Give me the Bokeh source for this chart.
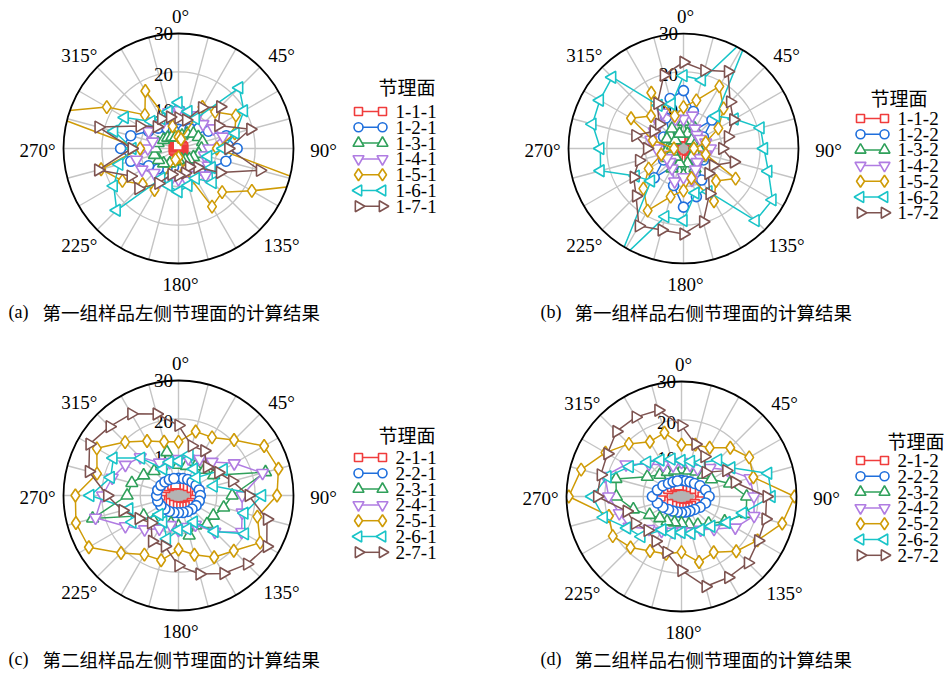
import math
from bokeh.plotting import figure
from bokeh.layouts import column, row
from bokeh.models import Range1d
from bokeh.core.properties import value
from bokeh.embed import file_html
from bokeh.resources import INLINE

# ---------------- data ----------------
angles_deg = [0, 15, 30, 45, 60, 75, 90, 105, 120, 135, 150, 165,
              180, 195, 210, 225, 240, 255, 270, 285, 300, 315, 330, 345]
ring_ticks = [10, 20, 30]
angle_ticks = [0, 45, 90, 135, 180, 225, 270, 315]

labels_a = ["1-1-1", "1-2-1", "1-3-1", "1-4-1", "1-5-1", "1-6-1", "1-7-1"]
labels_b = ["1-1-2", "1-2-2", "1-3-2", "1-4-2", "1-5-2", "1-6-2", "1-7-2"]
labels_c = ["2-1-1", "2-2-1", "2-3-1", "2-4-1", "2-5-1", "2-6-1", "2-7-1"]
labels_d = ["2-1-2", "2-2-2", "2-3-2", "2-4-2", "2-5-2", "2-6-2", "2-7-2"]

# panel (a)
a_111 = [0.8, 0.8, 0.9, 1, 1.1, 1.2, 1.2, 1.2, 1.1, 1, 0.9, 0.8, 0.8, 0.8, 0.9, 1, 1.1, 1.2, 1.2, 1.2, 1.1, 1, 0.9, 0.8]
a_121 = [5, 5, 6, 7.5, 9, 12.9, 15.3, 12.8, 10, 8, 6, 5, 5, 5, 6, 7.5, 9, 12.9, 15.1, 12.9, 9, 7.5, 6, 5]
a_131 = [3, 3.5, 4.5, 5.5, 6, 6.5, 6, 5.5, 4.5, 4, 3.5, 3, 3, 3.5, 4.5, 5.5, 6, 6.5, 6, 5.5, 4.5, 4, 3.5, 3]
a_141 = [10, 9, 10, 9, 10.5, 12, 8, 7, 9, 10, 8, 8.7, 8, 9, 10, 9, 11, 11.3, 8, 7, 9, 10, 8, 9.8]
a_151 = [3, 2.5, 12.5, 13.5, 17.3, 15.2, 10, 36, 22.1, 16.1, 17.5, 6, 2.3, 3, 12.5, 13.2, 16.9, 20.9, 10, 36, 21.6, 12.4, 17.3, 6]
a_161 = [12, 10, 9, 22.4, 19.7, 15.4, 11.7, 8, 10, 12.6, 9, 10, 11.3, 10, 9, 22.8, 19.5, 16, 12, 17.4, 16.2, 10, 9, 10]
a_171 = [8, 7.7, 12.3, 15.4, 12, 19.4, 13, 22, 12.5, 7, 5.5, 6.6, 7, 7, 10.5, 14.8, 14.4, 21.7, 12.2, 21.6, 11.7, 8, 9, 8.5]

# panel (b)
b_112 = [3, 3, 3, 3, 3, 4, 5, 4, 3, 3, 3, 3, 3, 3, 3, 3, 3, 4, 5, 4, 3, 3, 3, 3]
b_122 = [15.1, 10, 5.4, 10.5, 6, 4, 3, 4, 6, 5, 9.5, 13, 15.3, 10, 5.4, 10.8, 6, 4, 3, 4, 6, 5, 9.2, 13.5]
b_132 = [7, 4, 6, 3, 5, 3, 4, 3, 5, 3, 6, 4, 7, 4, 6, 3, 5, 3, 4, 3, 5, 3, 6, 4]
b_142 = [7.7, 8.9, 6, 5, 5, 6, 7, 6, 5, 5, 6.3, 8.5, 7.5, 8.9, 6, 5, 5, 6.2, 7, 8.8, 8.8, 9, 10.8, 8]
b_152 = [10.8, 13, 18.7, 14.8, 10.5, 6, 2.7, 6, 15.7, 12, 15.9, 8, 11, 13, 18.7, 14.8, 10.5, 6, 2.5, 8.3, 15.8, 12, 16.8, 8.8]
b_162 = [19, 18.5, 34, 12, 15.4, 20.8, 21, 22.9, 26.8, 26.6, 13, 12, 18.8, 18.4, 34, 12, 14.4, 22.4, 21.7, 24.6, 25.2, 26.3, 13, 12]
b_172 = [22.5, 21.1, 23.2, 17.2, 15, 12, 10.1, 13.6, 8.9, 9.2, 13.6, 19.8, 22.3, 22, 23.3, 17.5, 15, 12, 9.5, 13, 9, 9, 13.6, 19.8]

# panel (c)
c_211 = [3, 3, 3.2, 3.5, 4, 4.5, 4.8, 4.5, 4, 3.5, 3.2, 3, 3, 3, 3.2, 3.5, 4, 4.5, 4.8, 4.5, 4, 3.5, 3.2, 3]
c_221 = [4.5, 4.6, 4.8, 5, 5.3, 5.6, 5.7, 5.6, 5.3, 5, 4.8, 4.6, 4.5, 4.6, 4.8, 5, 5.3, 5.6, 5.7, 5.6, 5.3, 5, 4.8, 4.6]
c_231 = [8, 8, 8.8, 9.5, 10.6, 23.5, 14, 12.2, 10.5, 10.5, 9, 10.8, 8, 7.5, 8.5, 9.2, 10.5, 23.2, 13.4, 12.6, 10.5, 9, 8.8, 11.7]
c_241 = [9.5, 10, 11, 12.4, 16.8, 22.7, 16.6, 17.2, 19, 13.4, 8.8, 8.5, 9, 8, 10, 12.5, 16, 22.4, 19.8, 17.9, 16, 14.1, 9.9, 9]
c_251 = [14, 17.3, 17.5, 20.5, 25.8, 27, 25.7, 21.3, 24.6, 20.4, 18.6, 16, 14.1, 17.5, 17.8, 21.2, 27, 27.7, 26.9, 22, 24.6, 19.7, 16.4, 14.5]
c_261 = [9, 11.1, 8, 6.6, 13.6, 9.5, 21.8, 17.8, 20, 13.3, 8, 9, 9, 11.7, 8, 7, 13.9, 13.3, 23, 18.3, 19.6, 13.8, 8, 9]
c_271 = [18.3, 13.4, 13.5, 10.5, 12, 14.5, 18.3, 23.9, 26.6, 25.3, 23.5, 21.2, 18.3, 13.7, 13.8, 10.1, 12, 15.1, 18.6, 24.2, 26.8, 25.4, 24.6, 22]

# panel (d)
d_212 = [3, 3, 3.2, 3.5, 4, 5, 5.5, 5, 4, 3.5, 3.2, 3, 3, 3, 3.2, 3.5, 4, 5, 5.5, 5, 4, 3.5, 3.2, 3]
d_222 = [4.2, 4.2, 4.4, 4.8, 5.6, 6.5, 7.2, 6.5, 5.6, 4.8, 4.4, 4.2, 4.2, 4.2, 4.4, 4.8, 5.6, 6.5, 7.6, 6.5, 5.6, 4.8, 4.4, 4.2]
d_232 = [7, 7, 7.5, 8, 9, 13, 17, 17.5, 13, 10, 8.5, 7.5, 7, 7, 7.5, 8, 9.6, 13, 17, 17.7, 10.3, 8, 7.4, 7]
d_242 = [9, 8.5, 8.4, 10.5, 13.9, 18.5, 18.9, 19.6, 16.2, 12, 10, 9.5, 9, 9.5, 10.4, 12, 15.8, 16.8, 19, 20.7, 16.7, 12, 9.5, 8.4]
d_252 = [13.5, 14, 14.7, 18, 20.4, 19.4, 29.5, 27.2, 22.9, 20.2, 16.8, 17.7, 14.5, 15.5, 16.4, 18.8, 20.7, 19.6, 29.4, 27.1, 22.9, 19.4, 16.5, 17.2]
d_262 = [9.4, 9.5, 10.2, 13.5, 15, 23.4, 23.5, 16.6, 13.6, 11, 10, 10, 9.4, 9.9, 10, 14.8, 16.4, 21, 23.3, 20, 15.6, 12.7, 11, 10.1]
d_272 = [18.5, 14.1, 12, 8.9, 13.5, 14.4, 22.2, 22.7, 23.1, 24.5, 24.4, 24.3, 19.3, 15.1, 13.5, 12.5, 14, 14.8, 22, 21.8, 22.3, 24, 23.9, 23.3]

caption_a = "第一组样品左侧节理面的计算结果"
caption_b = "第一组样品右侧节理面的计算结果"
caption_c = "第二组样品左侧节理面的计算结果"
caption_d = "第二组样品右侧节理面的计算结果"
legend_title = "节理面"

# ---------------- style ----------------
COLORS = ["#f03c3c", "#1f6fdc", "#2fa05a", "#b07ce2", "#cf9b06", "#19c4c8", "#7e5350"]
MARKERS = [("square", 0.0, 9), ("circle", 0.0, 10), ("triangle", 0.0, 12),
           ("inverted_triangle", 0.0, 12), ("diamond", 0.0, 13),
           ("triangle", math.pi / 2, 12), ("triangle", -math.pi / 2, 12)]
GRID = "#c4c4c4"
SERIF = value("Liberation Serif")
CJK = value("Noto Sans CJK SC")
K = 115.0 / 30.0  # px per unit


def make_panel(W, H, series, labels, tag, caption, cx, cy, center_w, center_h,
               leg_tx, leg_y0, leg_dy, title_x, title_y, cap_x, cap_y):
    p = figure(width=W, height=H, x_range=Range1d(-cx / K, (W - cx) / K),
               y_range=Range1d(-(H - cy) / K, cy / K), output_backend="svg",
               toolbar_location=None, min_border=0, x_axis_type=None,
               y_axis_type=None, outline_line_color=None,
               background_fill_color="white", border_fill_color="white")

    def dx(px):
        return (px - cx) / K

    def dy(py):
        return (cy - py) / K

    rmax = ring_ticks[-1]
    sx = [rmax * math.sin(math.radians(a)) for a in angles_deg]
    sy = [rmax * math.cos(math.radians(a)) for a in angles_deg]
    p.segment(x0=[0] * len(sx), y0=[0] * len(sy), x1=sx, y1=sy,
              line_color=GRID, line_width=1.4)
    p.circle(x=[0] * 2, y=[0] * 2, radius=ring_ticks[:2], fill_color=None,
             line_color=GRID, line_width=1.4)
    p.ellipse(x=[0], y=[0], width=[center_w], height=[center_h],
              fill_color="#b4b4b4", line_color=None)
    p.text(x=[-15 / K] * 2, y=[ring_ticks[0], ring_ticks[1] - 0.7],
           text=[str(t) for t in ring_ticks[:2]],
           text_font=SERIF, text_font_size="19px", text_align="center",
           text_baseline="middle", text_color="black")

    for vals, col, (mk, ang, sz) in zip(series, COLORS, MARKERS):
        xs = [v * math.sin(math.radians(a)) for v, a in zip(vals, angles_deg)]
        ys = [v * math.cos(math.radians(a)) for v, a in zip(vals, angles_deg)]
        p.line(xs + xs[:1], ys + ys[:1], line_color=col, line_width=1.5)
        p.scatter(xs, ys, marker=mk, angle=ang, size=sz, fill_color="white",
                  line_color=col, line_width=1.6)

    # clip outside outer ring
    p.annulus(x=[0], y=[0], inner_radius=rmax, outer_radius=40,
              fill_color="white", line_color=None)
    p.circle(x=[0], y=[0], radius=[rmax], fill_color=None, line_color="black",
             line_width=1.8)
    p.text(x=[-15 / K], y=[rmax], text=[str(rmax)], text_font=SERIF,
           text_font_size="19px", text_align="center", text_baseline="middle")

    lx, ly, lt = [], [], []
    for a in angle_ticks:
        lx.append(143 / K * math.sin(math.radians(a)) + 2 / K)
        ly.append(134 / K * math.cos(math.radians(a)) - 2 / K)
        lt.append(f"{a}°")
    p.text(x=lx, y=ly, text=lt, text_font=SERIF, text_font_size="19px",
           text_align="center", text_baseline="middle")

    # legend
    p.text(x=[dx(title_x)], y=[dy(title_y)], text=[legend_title], text_font=CJK,
           text_font_size="19px", text_align="left", text_baseline="middle")
    for i, (lab, col, (mk, ang, sz)) in enumerate(zip(labels, COLORS, MARKERS)):
        yy = dy(leg_y0 + i * leg_dy)
        x0, x1 = dx(leg_tx - 37), dx(leg_tx - 13)
        p.line([x0, x1], [yy, yy], line_color=col, line_width=1.5)
        p.scatter([x0, x1], [yy, yy], marker=mk, angle=ang,
                  size=sz - 1, fill_color="white", line_color=col, line_width=1.6)
        p.text(x=[dx(leg_tx)], y=[yy], text=[lab], text_font=SERIF,
               text_font_size="19px", text_align="left", text_baseline="middle")

    # caption
    p.text(x=[dx(cap_x)], y=[dy(cap_y)], text=[f"({tag})"], text_font=SERIF,
           text_font_size="18px", text_align="left", text_baseline="middle")
    p.text(x=[dx(cap_x + 34)], y=[dy(cap_y)], text=[caption], text_font=CJK,
           text_font_size="18.5px", text_align="left", text_baseline="middle")
    return p


pa = make_panel(473, 340, [a_111, a_121, a_131, a_141, a_151, a_161, a_171], labels_a, "a",
                caption_a, 178, 148, 4.2, 4.2, 395, 111, 15.8, 378, 86, 8, 311)
pb = make_panel(474, 340, [b_112, b_122, b_132, b_142, b_152, b_162, b_172], labels_b, "b",
                caption_b, 210, 148, 4.6, 4.6, 424, 118, 15.7, 397, 97, 67, 311)
pc = make_panel(473, 335, [c_211, c_221, c_231, c_241, c_251, c_261, c_271], labels_c, "c",
                caption_c, 178, 155, 6.0, 3.4, 395, 117, 15.8, 378, 94, 8, 318)
pd = make_panel(474, 335, [d_212, d_222, d_232, d_242, d_252, d_262, d_272], labels_d, "d",
                caption_d, 208, 156, 6.6, 3.4, 424, 120, 15.8, 414, 100, 67, 318)

layout = column(row(pa, pb), row(pc, pd))
open("out.html", "w").write(file_html(layout, INLINE))
